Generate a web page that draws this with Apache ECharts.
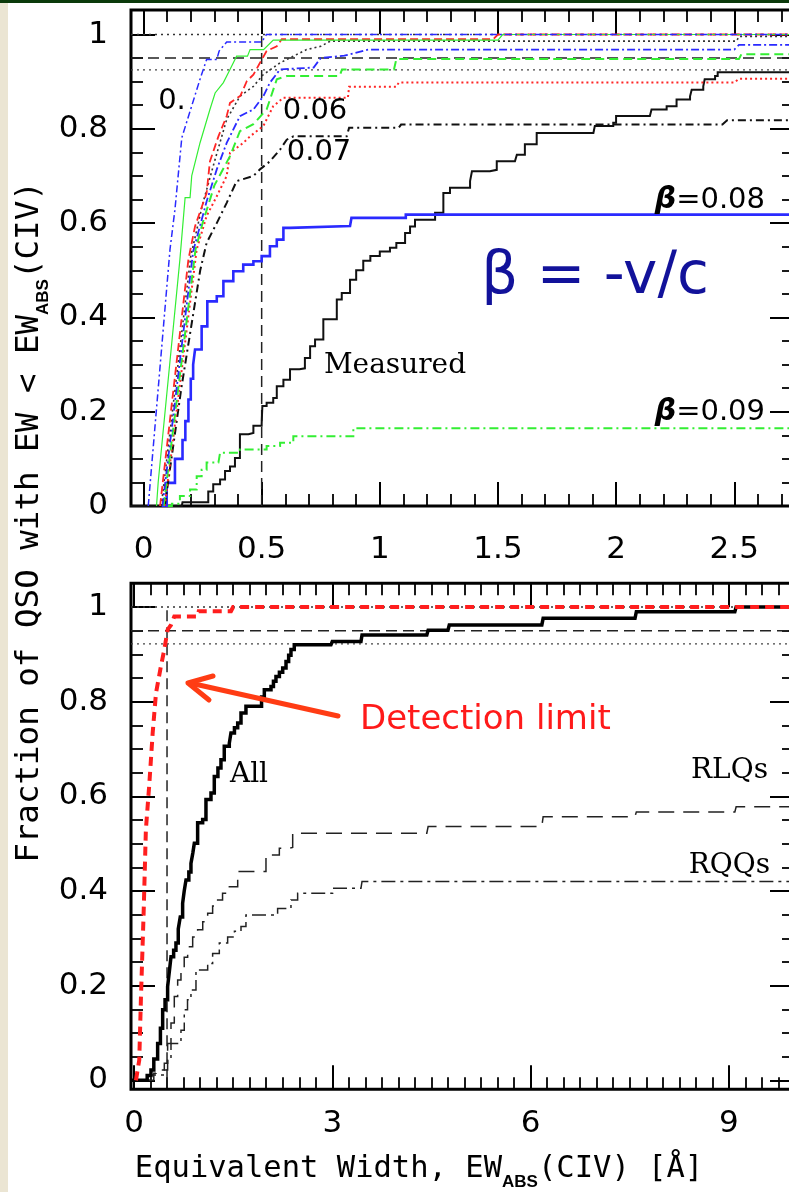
<!DOCTYPE html>
<html>
<head>
<meta charset="utf-8">
<script src="https://cdn.jsdelivr.net/npm/echarts/dist/echarts.min.js"></script>
<style>
  html, body { margin: 0; padding: 0; background: #fff; }
  #main { width: 789px; height: 1192px; }
</style>
</head>
<body>
<div id="main"></div>
<script>
// ---- top panel: cumulative fraction vs EW for the beta models + measured ----
const topB1 = [[0.02,0],[0.112,0.544],[0.133,0.629],[0.162,0.781],[0.17,0.784],[0.239,0.905],[0.267,0.947],[0.31,0.947],[0.32,0.965],[0.352,0.984],[0.5,0.984],[0.52,1.0],[2.76,1.0]];
const topG1 = [[0.055,0],[0.062,0.05],[0.154,0.523],[0.176,0.654],[0.197,0.654],[0.204,0.70],[0.239,0.77],[0.281,0.841],[0.303,0.876],[0.338,0.898],[0.366,0.926],[0.394,0.954],[0.44,0.954],[0.451,0.968],[0.508,0.968],[0.549,0.988],[1.5,0.988],[1.52,1.0],[2.76,1.0]];
const topR1 = [[0.07,0],[0.19,0.523],[0.218,0.593],[0.267,0.664],[0.281,0.731],[0.317,0.784],[0.352,0.827],[0.366,0.855],[0.41,0.87],[0.437,0.901],[0.465,0.915],[0.493,0.94],[0.521,0.965],[0.564,0.975],[0.585,0.99],[1.48,0.99],[1.5,1.0],[2.76,1.0]];
const topK1 = [[0.075,0],[0.2,0.53],[0.25,0.64],[0.3,0.73],[0.352,0.82],[0.408,0.869],[0.465,0.89],[0.507,0.915],[0.578,0.94],[0.634,0.954],[0.69,0.968],[0.75,0.975],[0.79,0.986],[2.51,0.986],[2.52,0.996],[2.76,0.996]];
const topB2 = [[0.08,0],[0.21,0.54],[0.267,0.646],[0.31,0.714],[0.352,0.77],[0.408,0.827],[0.465,0.841],[0.507,0.869],[0.535,0.898],[0.578,0.926],[0.72,0.93],[0.75,0.95],[0.85,0.955],[0.95,0.968],[2.5,0.968],[2.52,0.978],[2.76,0.978]];
const topG2 = [[0.085,0],[0.22,0.544],[0.25,0.6],[0.3,0.68],[0.366,0.742],[0.408,0.795],[0.465,0.81],[0.521,0.841],[0.564,0.905],[0.606,0.912],[0.83,0.912],[0.84,0.926],[1.06,0.926],[1.07,0.948],[2.52,0.948],[2.53,0.958],[2.76,0.958]];
const topR2 = [[0.09,0],[0.225,0.544],[0.267,0.615],[0.31,0.657],[0.352,0.70],[0.366,0.749],[0.422,0.77],[0.451,0.784],[0.507,0.806],[0.549,0.848],[0.592,0.866],[0.865,0.866],[0.87,0.889],[1.07,0.889],[1.08,0.898],[2.5,0.898],[2.52,0.906],[2.76,0.906]];
const topK2 = [[0.09,0],[0.16,0.25],[0.24,0.5],[0.267,0.558],[0.31,0.6],[0.352,0.643],[0.394,0.689],[0.465,0.70],[0.493,0.714],[0.535,0.731],[0.578,0.756],[0.606,0.777],[0.635,0.784],[0.86,0.784],[0.87,0.802],[1.08,0.802],[1.09,0.809],[2.45,0.809],[2.47,0.818],[2.76,0.818]];
const topB3 = [[0.077,0],[0.098,0.049],[0.133,0.1],[0.154,0.1],[0.165,0.14],[0.177,0.18],[0.19,0.226],[0.2,0.27],[0.21,0.3],[0.218,0.332],[0.246,0.381],[0.27,0.434],[0.31,0.445],[0.338,0.477],[0.38,0.498],[0.422,0.512],[0.465,0.519],[0.5,0.53],[0.535,0.551],[0.564,0.565],[0.592,0.59],[0.62,0.594],[0.874,0.594],[0.88,0.611],[1.1,0.611],[1.11,0.618],[2.76,0.618]];
const topG3 = [[0.098,0],[0.12,0.005],[0.154,0.021],[0.197,0.035],[0.225,0.063],[0.246,0.077],[0.267,0.092],[0.317,0.095],[0.324,0.113],[0.394,0.113],[0.408,0.12],[0.5,0.12],[0.521,0.127],[0.578,0.134],[0.634,0.148],[0.874,0.148],[0.888,0.165],[2.76,0.165]];
const topMeasured = [[-0.06,0],[0.162,0],[0.165,0.008],[0.274,0.008],[0.274,0.031],[0.295,0.046],[0.324,0.056],[0.345,0.074],[0.366,0.084],[0.387,0.102],[0.408,0.152],[0.444,0.155],[0.465,0.17],[0.5,0.175],[0.503,0.212],[0.521,0.219],[0.549,0.229],[0.564,0.254],[0.592,0.268],[0.62,0.29],[0.66,0.292],[0.683,0.314],[0.705,0.339],[0.726,0.353],[0.761,0.396],[0.79,0.396],[0.818,0.438],[0.839,0.452],[0.874,0.48],[0.9,0.5],[0.93,0.52],[0.96,0.53],[1.0,0.54],[1.043,0.548],[1.07,0.558],[1.107,0.579],[1.128,0.593],[1.149,0.607],[1.234,0.622],[1.269,0.664],[1.297,0.675],[1.382,0.689],[1.39,0.71],[1.466,0.713],[1.495,0.731],[1.572,0.735],[1.58,0.745],[1.614,0.767],[1.664,0.791],[1.904,0.791],[1.91,0.806],[1.988,0.813],[2.0,0.827],[2.143,0.827],[2.15,0.841],[2.214,0.848],[2.256,0.862],[2.313,0.869],[2.32,0.883],[2.369,0.89],[2.375,0.905],[2.419,0.912],[2.43,0.92],[2.76,0.92]];
const topLevels = [1.0, 0.95, 0.925];

// ---- bottom panel: All / RLQs / RQQs and the detection-limit curve ----
const botDetect = [[0.03,0],[0.08,0.043],[0.106,0.177],[0.146,0.353],[0.18,0.529],[0.233,0.628],[0.283,0.734],[0.333,0.818],[0.408,0.875],[0.459,0.91],[0.509,0.952],[0.56,0.962],[0.61,0.98],[0.963,0.98],[0.98,0.991],[1.467,0.991],[1.5,1.0],[10,1.0]];
const botAll = [[-0.05,0],[0.15,0],[0.2,0.01],[0.257,0.022],[0.3,0.045],[0.358,0.078],[0.4,0.11],[0.434,0.149],[0.47,0.17],[0.509,0.198],[0.535,0.23],[0.56,0.261],[0.6,0.275],[0.635,0.29],[0.67,0.32],[0.7,0.345],[0.736,0.374],[0.76,0.4],[0.787,0.423],[0.83,0.44],[0.862,0.458],[0.89,0.48],[0.913,0.501],[0.963,0.544],[1.039,0.551],[1.089,0.593],[1.165,0.607],[1.215,0.642],[1.27,0.66],[1.316,0.677],[1.366,0.706],[1.442,0.712],[1.467,0.734],[1.52,0.745],[1.569,0.755],[1.619,0.776],[1.694,0.79],[1.896,0.79],[1.93,0.81],[1.972,0.825],[2.073,0.832],[2.11,0.843],[2.148,0.853],[2.2,0.862],[2.25,0.871],[2.3,0.885],[2.34,0.898],[2.375,0.91],[2.425,0.92],[2.98,0.92],[3.0,0.927],[3.434,0.927],[3.45,0.941],[4.43,0.941],[4.45,0.951],[4.75,0.951],[4.77,0.962],[6.17,0.962],[6.19,0.976],[7.58,0.976],[7.6,0.99],[9.09,0.99],[9.11,1.0],[10,1.0]];
const botRLQ = [[0.2,0],[0.3,0.015],[0.333,0.022],[0.459,0.036],[0.509,0.078],[0.56,0.121],[0.61,0.177],[0.661,0.212],[0.711,0.233],[0.76,0.26],[0.812,0.282],[0.888,0.303],[0.963,0.318],[1.04,0.335],[1.115,0.353],[1.19,0.368],[1.266,0.381],[1.34,0.395],[1.417,0.409],[1.569,0.441],[1.871,0.441],[1.997,0.476],[2.123,0.476],[2.199,0.49],[2.325,0.492],[2.401,0.522],[4.43,0.522],[4.45,0.536],[6.17,0.536],[6.19,0.557],[7.58,0.557],[7.6,0.567],[9.09,0.567],[9.11,0.578],[10,0.578]];
const botRQQ = [[0.2,0],[0.257,0.011],[0.459,0.022],[0.509,0.042],[0.56,0.078],[0.711,0.106],[0.761,0.149],[0.81,0.17],[0.862,0.191],[0.938,0.233],[1.115,0.247],[1.19,0.268],[1.291,0.29],[1.417,0.303],[1.52,0.315],[1.619,0.325],[1.694,0.349],[2.073,0.349],[2.173,0.363],[2.375,0.381],[2.476,0.395],[2.93,0.395],[3.005,0.406],[3.434,0.406],[3.45,0.42],[10,0.42]];
const botLevels = [1.0, 0.95, 0.922];
const ewLimit = 0.5;

// axis ranges (data frames) and tick axes
const topX = [-0.053, 2.753], topY = [0, 1.052];
const botX = [-0.045, 9.985], botY = [-0.019, 1.05];
const topXTicks = { min: 0, max: 3, interval: 0.5, minor: 5 };
const botXTicks = { min: 0, max: 12, interval: 3, minor: 12 };
const yTicks = { min: 0, max: 1, interval: 0.2, minor: 4 };

const chart = echarts.init(document.getElementById('main'));

const BLUE = '#2a2aff', GREEN = '#33ee33', RED = '#ff2626', BLK = '#111';
const TICKFONT = 'DejaVu Sans';

function line(data, idx, color, width, type, z, step) {
  return {
    type: 'line', data, xAxisIndex: idx, yAxisIndex: idx, step: step || false,
    showSymbol: false, symbol: 'none', animation: false, silent: true, z: z || 3,
    lineStyle: { color, width, type: type || 'solid', cap: 'butt', join: 'miter' }
  };
}
function hLines(levels, xr, idx, styles) {
  return levels.map((lv, i) => line([[xr[0], lv], [xr[1], lv]], idx, styles[i][0], styles[i][1], styles[i][2], 2));
}
function tickAx(grid, pos, t, labels, margin) {
  return {
    type: 'value', gridIndex: grid, position: pos, min: t.min, max: t.max, interval: t.interval,
    axisLine: { show: false }, splitLine: { show: false },
    axisTick: { show: true, inside: true, length: 24, lineStyle: { color: '#000', width: 2 } },
    minorTick: { show: true, splitNumber: t.minor, length: 12, lineStyle: { color: '#000', width: 1.8 } },
    axisLabel: { show: labels, margin: margin || 8, fontFamily: TICKFONT, fontSize: 31, color: '#000' }
  };
}
function hidden(grid, r) {
  return { type: 'value', gridIndex: grid, min: r[0], max: r[1], show: false, splitLine: { show: false } };
}

const frame = { show: true, borderColor: '#000', borderWidth: 3, backgroundColor: 'transparent', outerBoundsMode: 'none' };
const grids = [
  Object.assign({ left: 131, top: 10, width: 663, height: 496 }, frame),
  { left: 143.5, top: 10, width: 708.9, height: 496, outerBoundsMode: 'none' },
  { left: 131, top: 34.5, width: 663, height: 471.5, outerBoundsMode: 'none' },
  Object.assign({ left: 131, top: 583.3, width: 663, height: 506 }, frame),
  { left: 134, top: 583.3, width: 793.2, height: 506, outerBoundsMode: 'none' },
  { left: 131, top: 606.9, width: 663, height: 473.5, outerBoundsMode: 'none' }
];

const xAxes = [
  hidden(0, topX),
  tickAx(1, 'bottom', topXTicks, true, 28),
  tickAx(1, 'top', topXTicks, false),
  hidden(2, [0, 1]),
  hidden(3, botX),
  tickAx(4, 'bottom', botXTicks, true, 19),
  tickAx(4, 'top', botXTicks, false),
  hidden(5, [0, 1])
];
const yAxes = [
  hidden(0, topY),
  hidden(1, [0, 1]),
  tickAx(2, 'left', yTicks, true, 23),
  tickAx(2, 'right', yTicks, false),
  hidden(3, botY),
  hidden(4, [0, 1]),
  tickAx(5, 'left', yTicks, true, 23),
  tickAx(5, 'right', yTicks, false)
];

const refStyles = [['#333', 1.5, [2, 4]], ['#222', 1.5, [11, 6]], ['#444', 1.3, [2, 4]]];
const series = [].concat(
  hLines(topLevels, topX, 0, refStyles),
  [line([[ewLimit, 0], [ewLimit, 1]], 0, '#222', 1.5, [11, 6], 2)],
  [
    line(topMeasured, 0, BLK, 2, 'solid', 3, 'end'),
    line(topG3, 0, GREEN, 2, [9, 4, 2, 4], 3, 'end'),
    line(topB3, 0, BLUE, 2.6, 'solid', 3, 'end'),
    line(topK2, 0, BLK, 2, [8, 4, 2, 4]),
    line(topR2, 0, RED, 2, [2, 3]),
    line(topG2, 0, GREEN, 2, [9, 5]),
    line(topB2, 0, BLUE, 1.8, [8, 3, 2, 3]),
    line(topK1, 0, '#333', 1.6, [2, 3]),
    line(topR1, 0, RED, 1.8, [8, 4]),
    line(topG1, 0, GREEN, 1.2),
    line(topB1, 0, BLUE, 1.5, [7, 3, 2, 3])
  ],
  hLines(botLevels, botX, 4, refStyles),
  [line([[ewLimit, 0], [ewLimit, 1]], 4, '#222', 1.5, [11, 6], 2)],
  [
    line(botRQQ, 4, '#222', 1.5, [14, 5, 3, 5], 3, 'end'),
    line(botRLQ, 4, '#222', 1.5, [16, 9], 3, 'end'),
    line(botAll, 4, '#000', 3.5, 'solid', 3, 'end'),
    line(botDetect, 4, '#ff1e1e', 4, [9, 6], 4)
  ]
);

function txt(x, y, text, font, fill, align) {
  return { type: 'text', x, y, z: 20, silent: true,
    style: { text, font, fill, align: align || 'center', verticalAlign: 'middle',
      textAlign: align || 'center', textVerticalAlign: 'middle' } };
}
const serif = '28px "DejaVu Serif"';
const lab = '29px "DejaVu Sans"';
const richTitle = (size) => ({
  m: { fontFamily: 'DejaVu Sans Mono', fontSize: size, fill: '#000', lineHeight: 44, verticalAlign: 'middle' },
  s: { fontFamily: 'Liberation Sans', fontWeight: 'bold', fontSize: 17, fill: '#000', lineHeight: 14, verticalAlign: 'bottom' }
});
const richBeta = {
  b: { fontFamily: 'DejaVu Sans', fontStyle: 'italic', fontWeight: 'bold', fontSize: 30, fill: '#000' },
  n: { fontFamily: 'DejaVu Sans', fontSize: 29, fill: '#000' }
};

const graphic = [
  { type: 'rect', z: 30, silent: true, shape: { x: 0, y: 0, width: 8, height: 1192 }, style: { fill: '#ebe5d3' } },
  { type: 'rect', z: 30, silent: true, shape: { x: 0, y: 0, width: 789, height: 3 }, style: { fill: '#0b3a0b' } },
  txt(172, 101, '0.', lab, '#000'),
  txt(315, 111, '0.06', lab, '#000'),
  txt(319, 152, '0.07', lab, '#000'),
  { type: 'text', x: 765, y: 200, z: 20, silent: true,
    style: { text: '{b|β}{n|=0.08}', rich: richBeta, align: 'right', verticalAlign: 'middle', textAlign: 'right', textVerticalAlign: 'middle' } },
  { type: 'text', x: 765, y: 412, z: 20, silent: true,
    style: { text: '{b|β}{n|=0.09}', rich: richBeta, align: 'right', verticalAlign: 'middle', textAlign: 'right', textVerticalAlign: 'middle' } },
  txt(395, 366, 'Measured', serif, '#000'),
  txt(595, 278, 'β = -v/c', '58px "DejaVu Sans"', '#12129a'),
  txt(249, 775, 'All', serif, '#000'),
  txt(768, 771, 'RLQs', serif, '#000', 'right'),
  txt(770, 866, 'RQQs', serif, '#000', 'right'),
  txt(360, 720, 'Detection limit', '34px "DejaVu Sans"', '#ff1a1a', 'left'),
  { type: 'polyline', z: 20, silent: true, shape: { points: [[338, 716], [190, 683]] },
    style: { stroke: '#ff3c14', lineWidth: 5, lineCap: 'round' } },
  { type: 'polyline', z: 20, silent: true, shape: { points: [[213, 676], [188, 683], [209, 700]] },
    style: { stroke: '#ff3c14', lineWidth: 5, lineCap: 'round', lineJoin: 'round', fill: null } },
  { type: 'text', x: 419, y: 1169, z: 20, silent: true,
    style: { text: '{m|Equivalent Width, EW}{s|ABS}{m|(CIV) [Å]}', rich: richTitle(30.5),
      align: 'center', verticalAlign: 'middle', textAlign: 'center', textVerticalAlign: 'middle' } },
  { type: 'text', x: 30, y: 522, rotation: Math.PI / 2, z: 20, silent: true,
    style: { text: '{m|Fraction of QSO with EW < EW}{s|ABS}{m|(CIV)}', rich: richTitle(32.5),
      align: 'center', verticalAlign: 'middle', textAlign: 'center', textVerticalAlign: 'middle' } }
];

chart.setOption({
  animation: false,
  backgroundColor: '#fff',
  grid: grids,
  xAxis: xAxes,
  yAxis: yAxes,
  series,
  graphic
});
</script>
</body>
</html>
